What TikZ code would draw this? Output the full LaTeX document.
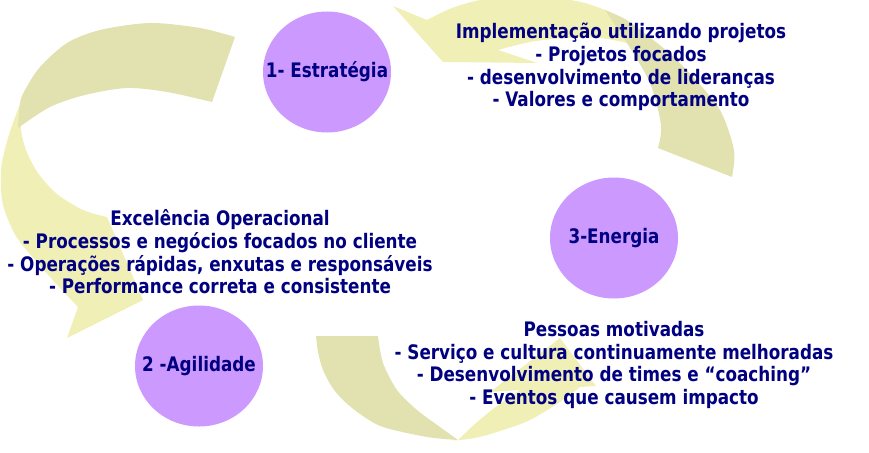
\documentclass[tikz,border=0pt]{standalone}
\usepackage{fontspec}
\setmainfont{DejaVu Sans}[FakeStretch=0.84]
\usetikzlibrary{shapes.geometric}
\definecolor{arrowdark}{RGB}{225,226,176}
\definecolor{arrowlight}{RGB}{240,240,182}
\definecolor{phasefill}{RGB}{204,153,255}
\definecolor{textblue}{RGB}{0,0,128}

\begin{document}
\begin{tikzpicture}[
    x=1pt, y=-1pt,
    phase/.style={ellipse, fill=phasefill, minimum width=128pt, minimum height=121pt, inner sep=0pt},
    phasetext/.style={inner sep=0pt, text=textblue, font=\bfseries\fontsize{20}{22.7}\selectfont},
    note/.style={align=center, inner sep=0pt, text=textblue, font=\bfseries\fontsize{20}{22.7}\selectfont},
    backarc/.style={fill=arrowdark},
    frontarc/.style={fill=arrowlight}
]
\useasboundingbox (0,0) rectangle (869,452);
\clip (0,0) rectangle (869,452);

% estrategia -> agilidade
\fill[frontarc] plot[smooth] coordinates {(35,74) (24,95) (14,120) (6,145) (1,170) (2,200) (9,222) (20,242) (50,277) (78,307)} -- (67,338) -- (143,300) -- (107,217) -- plot[smooth] coordinates {(107,217) (83,210) (57,194) (38,173) (26,150) (21,128) (24,100) (35,74)} -- cycle;
\fill[backarc] (235,37) -- (212,102) -- plot[smooth] coordinates {(212,102) (167,92) (127,88) (85,95) (50,107) (18,128)} -- plot[smooth] coordinates {(18,128) (20,103) (25,90) (40,67) (67,43) (100,30) (150,23) (200,28) (235,37)} -- cycle;

% energia -> estrategia
\fill[frontarc] plot[smooth] coordinates {(610,12) (585,3) (550,-3) (515,-4) (480,0) (452,8) (427,20)} -- (393,6) -- (443,62) -- (537,63) -- (498,50) -- plot[smooth] coordinates {(498,50) (530,42) (565,38) (600,38) (627,43)} -- (610,12) -- cycle;
\fill[backarc] (732,177) -- (658,148) -- plot[smooth] coordinates {(658,148) (661,125) (650,83) (627,43) (615,25) (605,10)} -- plot[smooth] coordinates {(605,10) (625,19) (643,32) (668,52) (693,77) (720,110) (734,150) (732,177)} -- cycle;

% agilidade -> energia
\fill[frontarc] plot[smooth] coordinates {(450,441) (475,438) (500,431) (530,420) (563,400) (580,387)} -- (596,386) -- (560,338) -- (490,392) -- (520,390) -- plot[smooth] coordinates {(520,390) (497,406) (476,423) (458,440)} -- cycle;
\fill[backarc] (316,336) -- (378,336) -- plot[smooth] coordinates {(378,336) (383,363) (397,390) (417,410) (440,427) (458,440)} -- plot[smooth] coordinates {(458,440) (427,437) (383,427) (360,414) (343,400) (332,387) (323,370) (318,352) (316,336)} -- cycle;

\node[phase, label={[phasetext]center:1- Estratégia}] (estrategia) at (327,72) {};
\node[phase, label={[phasetext]center:3-Energia}] (energia) at (614,238) {};
\node[phase, label={[phasetext]center:2 -Agilidade}] (agilidade) at (199,366) {};

\node[note] (implementacao) at (621,67) {Implementação utilizando projetos\\- Projetos focados\\- desenvolvimento de lideranças\\- Valores e comportamento};
\node[note] (excelencia) at (220,252) {Excelência Operacional\\- Processos e negócios focados no cliente\\- Operações rápidas, enxutas e responsáveis\\- Performance correta e consistente};
\node[note] (pessoas) at (614,365) {Pessoas motivadas\\- Serviço e cultura continuamente melhoradas\\- Desenvolvimento de times e “coaching”\\- Eventos que causem impacto};
\end{tikzpicture}
\end{document}
